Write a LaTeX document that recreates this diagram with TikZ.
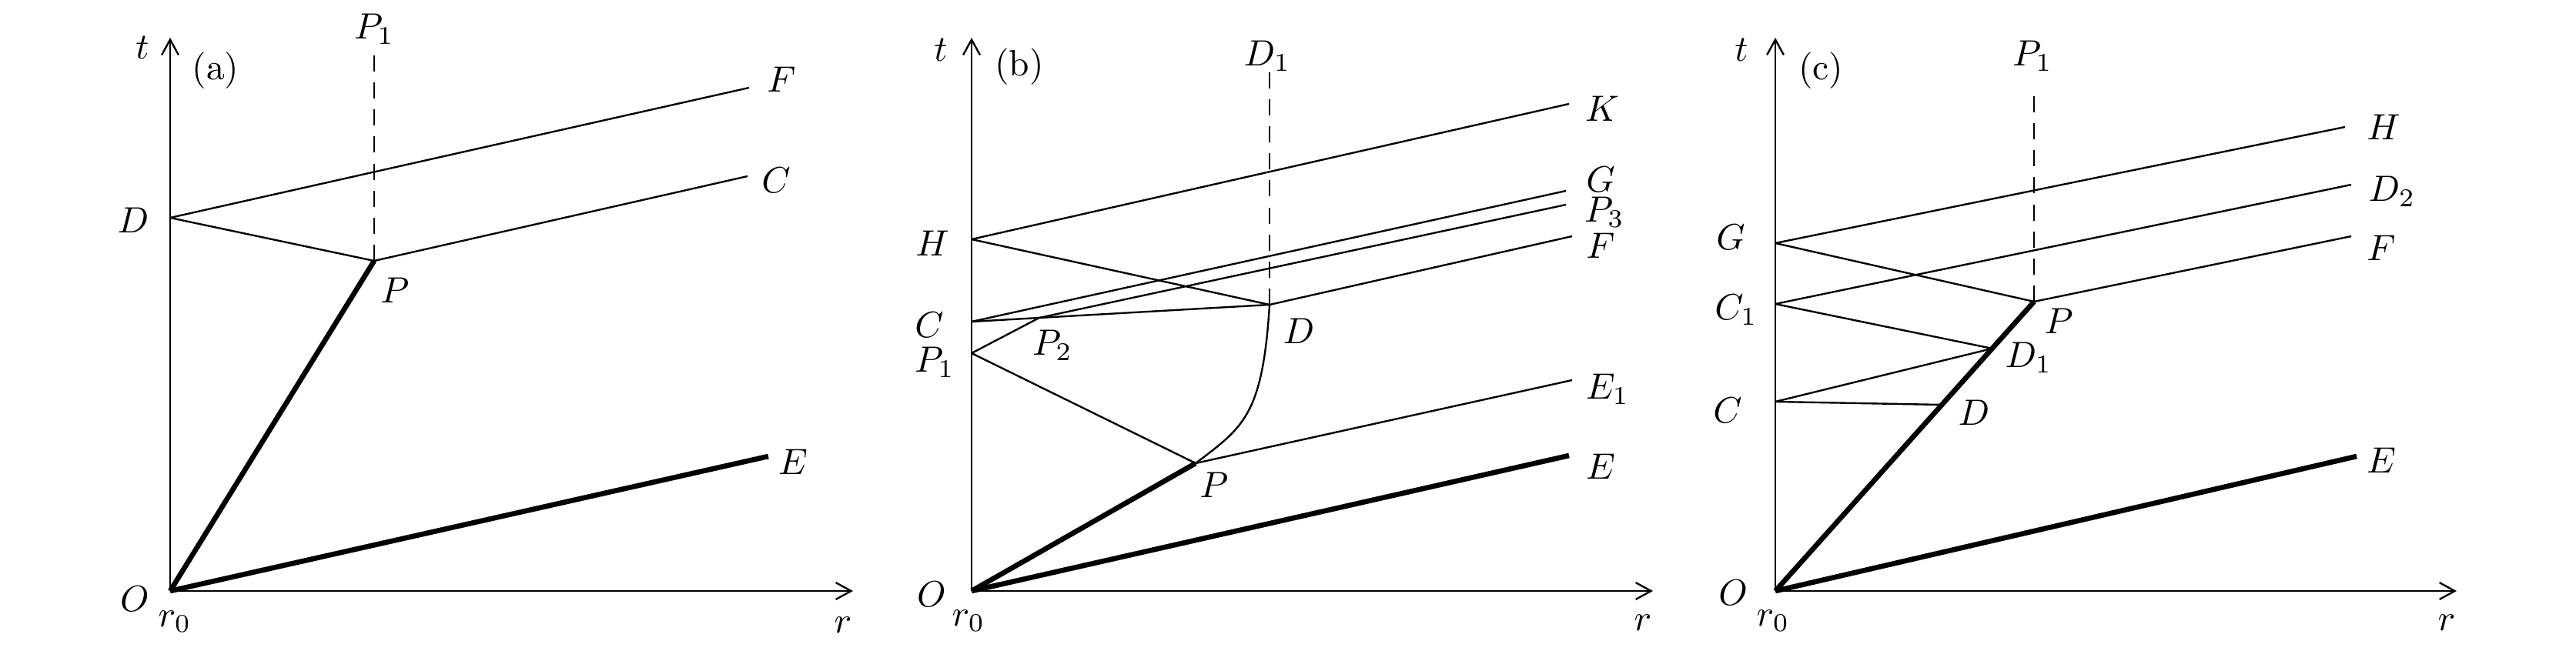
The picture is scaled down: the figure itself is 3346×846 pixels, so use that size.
\documentclass[tikz,border=0pt]{standalone}
\usetikzlibrary{arrows.meta,calc}
\begin{document}
\begin{tikzpicture}[x=0.2105pt,y=-0.2105pt,
  thinline/.style={line width=0.5pt},
  thickline/.style={line width=1.4pt},
  axisline/.style={line width=0.5pt,-{Straight Barb[length=4.2pt,width=4.6pt]}},
  dashline/.style={line width=0.5pt,dash pattern=on 4.4pt off 3pt},
  lab/.style={inner sep=0pt,anchor=center}]
\useasboundingbox (0,0) rectangle (3346,846);
% ---------------- panel (a)
\coordinate (aO) at (221,768);
\coordinate (aT) at (221,49);
\coordinate (aR) at (1108,768);
\coordinate (aD) at (221,283);
\coordinate (aP) at (486,339);
\coordinate (aF) at (973,114);
\coordinate (aC) at (971,229);
\coordinate (aE) at (998,593);
\coordinate (aP1) at (486,58);
\draw[axisline] (aO) -- (aT);
\draw[axisline] (aO) -- (aR);
\draw[thinline] (aD) -- (aF);
\draw[thinline] (aD) -- (aP) -- (aC);
\draw[dashline] (aP) -- (aP1);
\draw[thickline] (aO) -- (aP);
\draw[thickline] (aO) -- (aE);
\node[lab] (la-t) at (185,62) {$t$};
\node[lab] (la-a) at (280,92) {(a)};
\node[lab] (la-P1) at (486,38) {$P_1$};
\node[lab] (la-F) at (1015,103) {$F$};
\node[lab] (la-C) at (1008,234) {$C$};
\node[lab] (la-D) at (173,286) {$D$};
\node[lab] (la-P) at (513,377) {$P$};
\node[lab] (la-E) at (1030,600) {$E$};
\node[lab] (la-O) at (175,778) {$O$};
\node[lab] (la-r0) at (227,808) {$r_0$};
\node[lab] (la-r) at (1095,812) {$r$};
% ---------------- panel (b)
\coordinate (bO) at (1262,768);
\coordinate (bT) at (1262,49);
\coordinate (bR) at (2147,768);
\coordinate (bH) at (1262,311);
\coordinate (bK) at (2038,135);
\coordinate (bC) at (1262,418);
\coordinate (bG) at (2034,248);
\coordinate (bP1) at (1262,459);
\coordinate (bP3) at (2034,266);
\coordinate (bD) at (1649,396);
\coordinate (bF) at (2042,307);
\coordinate (bP) at (1553,602);
\coordinate (bE1) at (2042,494);
\coordinate (bE) at (2038,592);
\coordinate (bD1) at (1649,92);
\coordinate (bP2) at ($(bC)!0.227!(bD)$);
\draw[axisline] (bO) -- (bT);
\draw[axisline] (bO) -- (bR);
\draw[thinline] (bH) -- (bK);
\draw[thinline] (bH) -- (bD);
\draw[thinline] (bC) -- (bG);
\draw[thinline] (bC) -- (bD);
\draw[thinline] (bP1) -- (bP2) -- (bP3);
\draw[thinline] (bD) -- (bF);
\draw[thinline] (bP1) -- (bP);
\draw[thinline] (bP) -- (bE1);
\draw[thinline] (bP) .. controls (1615,555) and (1640,540) .. (bD);
\draw[dashline] (bD) -- (bD1);
\draw[thickline] (bO) -- (bP);
\draw[thickline] (bO) -- (bE);
\node[lab] (lb-t) at (1222,65) {$t$};
\node[lab] (lb-b) at (1324,87) {(b)};
\node[lab] (lb-D1) at (1646,73) {$D_1$};
\node[lab] (lb-K) at (2081,141) {$K$};
\node[lab] (lb-H) at (1211,316) {$H$};
\node[lab] (lb-G) at (2079,233) {$G$};
\node[lab] (lb-P3) at (2084,276) {$P_3$};
\node[lab] (lb-F) at (2079,319) {$F$};
\node[lab] (lb-C) at (1207,422) {$C$};
\node[lab] (lb-D) at (1687,430) {$D$};
\node[lab] (lb-P2) at (1367,449) {$P_2$};
\node[lab] (lb-P1) at (1214,471) {$P_1$};
\node[lab] (lb-P) at (1577,630) {$P$};
\node[lab] (lb-E1) at (2088,506) {$E_1$};
\node[lab] (lb-E) at (2079,606) {$E$};
\node[lab] (lb-O) at (1210,772) {$O$};
\node[lab] (lb-r0) at (1258,807) {$r_0$};
\node[lab] (lb-r) at (2134,809) {$r$};
% ---------------- panel (c)
\coordinate (cO) at (2306,768);
\coordinate (cT) at (2306,49);
\coordinate (cR) at (3191,768);
\coordinate (cG) at (2306,316);
\coordinate (cH) at (3046,165);
\coordinate (cC1) at (2306,395);
\coordinate (cD2) at (3054,240);
\coordinate (cP) at (2642,392);
\coordinate (cF) at (3054,307);
\coordinate (cC) at (2306,522);
\coordinate (cD1) at ($(cO)!0.838!(cP)$);
\coordinate (cD) at ($(cO)!0.6436!(cP)$);
\coordinate (cE) at (3061,593);
\coordinate (cP1) at (2642,111);
\draw[axisline] (cO) -- (cT);
\draw[axisline] (cO) -- (cR);
\draw[thinline] (cG) -- (cH);
\draw[thinline] (cG) -- (cP);
\draw[thinline] (cC1) -- (cD2);
\draw[thinline] (cC1) -- (cD1);
\draw[thinline] (cC) -- (cD1);
\draw[thinline] (cC) -- (cD);
\draw[thinline] (cP) -- (cF);
\draw[dashline] (cP) -- (cP1);
\draw[thickline] (cO) -- (cP);
\draw[thickline] (cO) -- (cE);
\node[lab] (lc-t) at (2262,65) {$t$};
\node[lab] (lc-c) at (2365,92) {(c)};
\node[lab] (lc-P1) at (2640,73) {$P_1$};
\node[lab] (lc-H) at (3096,165) {$H$};
\node[lab] (lc-D2) at (3107,249) {$D_2$};
\node[lab] (lc-F) at (3093,322) {$F$};
\node[lab] (lc-G) at (2248,308) {$G$};
\node[lab] (lc-C1) at (2255,403) {$C_1$};
\node[lab] (lc-P) at (2674,417) {$P$};
\node[lab] (lc-D1) at (2635,465) {$D_1$};
\node[lab] (lc-C) at (2244,533) {$C$};
\node[lab] (lc-D) at (2564,536) {$D$};
\node[lab] (lc-E) at (3093,598) {$E$};
\node[lab] (lc-O) at (2251,770) {$O$};
\node[lab] (lc-r0) at (2303,807) {$r_0$};
\node[lab] (lc-r) at (3178,809) {$r$};
\end{tikzpicture}
\end{document}
